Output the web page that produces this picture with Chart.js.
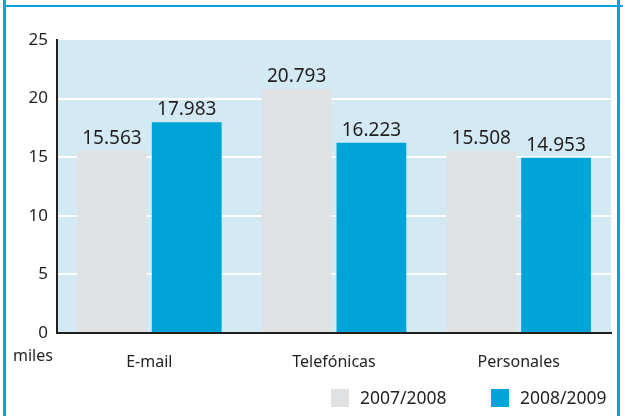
<!DOCTYPE html>
<html>
<head>
<meta charset="utf-8">
<script src="https://cdn.jsdelivr.net/npm/chart.js@4.4.1/dist/chart.umd.min.js"></script>
<style>
  html, body { margin:0; padding:0; background:#fff; }
  #wrap { position:relative; width:625px; height:416px; overflow:hidden; }
  #frame { position:absolute; left:3px; top:-20px; width:617px; height:460px; border:3px solid #0aa3d9; box-sizing:border-box; }
  #topline { position:absolute; left:3px; top:5px; width:620px; height:2px; background:#0aa3d9; }
  canvas { position:absolute; left:0; top:0; }
</style>
</head>
<body>
<div id="wrap">
  <canvas id="chart" width="625" height="416"></canvas>
  <div id="frame"></div>
  <div id="topline"></div>
</div>
<script>
var categories = ["E-mail", "Telefónicas", "Personales"];
var series = ["2007/2008", "2008/2009"];
var values0708 = [15.563, 20.793, 15.508];
var values0809 = [17.983, 16.223, 14.953];
var valueLabels0708 = ["15.563", "20.793", "15.508"];
var valueLabels0809 = ["17.983", "16.223", "14.953"];
var yTicks = [0, 5, 10, 15, 20, 25];
var unitLabel = "miles";

var colors = ['#e0e1e3', '#00a4d8'];
var ink = '#231f20';
var font = "'Noto Sans', sans-serif";

//background of the plot, value labels, unit label and legend
var extras = {
    id: 'extras',
    beforeDraw: function(chart) {
        var a = chart.chartArea, ctx = chart.ctx;
        ctx.save();
        ctx.fillStyle = '#d3eaf4';
        ctx.fillRect(a.left, a.top, a.right - a.left, a.bottom - a.top);
        ctx.restore();
    },
    afterDatasetsDraw: function(chart) {
        var ctx = chart.ctx, a = chart.chartArea;
        var labelSets = [valueLabels0708, valueLabels0809];
        ctx.save();
        ctx.fillStyle = ink;
        ctx.font = "19px " + font;
        ctx.textAlign = 'center';
        ctx.textBaseline = 'alphabetic';
        chart.data.datasets.forEach(function(ds, i) {
            chart.getDatasetMeta(i).data.forEach(function(bar, j) {
                ctx.fillText(labelSets[i][j], bar.x, bar.y - 7);
            });
        });
        // unit under the y axis
        ctx.font = "16px " + font;
        ctx.textAlign = 'left';
        ctx.textBaseline = 'middle';
        ctx.fillText(unitLabel, 13, a.bottom + 23);
        // legend
        ctx.font = "17.5px " + font;
        var y = 398;
        chart.data.datasets.forEach(function(ds, i) {
            var bx = a.right - 120 - (chart.data.datasets.length - 1 - i) * 160;
            ctx.fillStyle = ds.backgroundColor;
            ctx.fillRect(bx, y - 9, 18, 18);
            ctx.fillStyle = ink;
            ctx.fillText(ds.label, bx + 29, y + 1);
        });
        ctx.restore();
    }
};

var chart = new Chart(document.getElementById('chart'), {
    type: 'bar',
    data: {
        labels: categories,
        datasets: [
            { label: series[0], data: values0708, backgroundColor: colors[0] },
            { label: series[1], data: values0809, backgroundColor: colors[1] }
        ]
    },
    options: {
        responsive: false,
        animation: false,
        categoryPercentage: 0.81,
        barPercentage: 0.933,
        layout: { padding: { top: 40, right: 14, bottom: 0, left: 0 } },
        plugins: { legend: { display: false }, tooltip: { enabled: false } },
        scales: {
            x: {
                grid: { display: false },
                border: { display: true, color: ink, width: 2 },
                ticks: { color: ink, font: { size: 16, family: font }, padding: 12 },
                afterFit: function(scale) { scale.height = 83; }
            },
            y: {
                min: 0, max: 25,
                afterBuildTicks: function(scale) { scale.ticks = yTicks.map(function(v) { return { value: v }; }); },
                grid: {
                    drawTicks: false,
                    lineWidth: 2,
                    color: function(c) { return (c.tick && (c.tick.value == 0 || c.tick.value == 25)) ? 'rgba(0,0,0,0)' : '#ffffff'; }
                },
                border: { display: true, color: ink, width: 2 },
                ticks: { color: ink, font: { size: 17, family: font }, padding: 9 },
                afterFit: function(scale) { scale.width = 57; }
            }
        }
    },
    plugins: [extras]
});
</script>
</body>
</html>
